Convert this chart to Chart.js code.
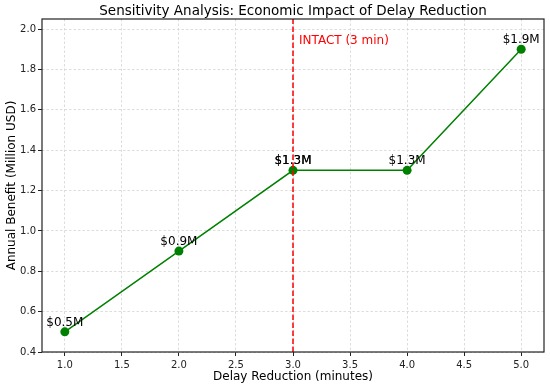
<!DOCTYPE html>
<html>
<head>
<meta charset="utf-8">
<script src="https://cdn.jsdelivr.net/npm/chart.js@4"></script>
<style>
html,body{margin:0;padding:0;background:#fff;}
#wrap{width:550px;height:387px;position:relative;}
</style>
</head>
<body>
<div id="wrap"><canvas id="c" width="550" height="387"></canvas></div>
<script>
const delayReduction = [1, 2, 3, 4, 5];
const annualBenefit = [0.5, 0.9, 1.3, 1.3, 1.9];
const benefitLabels = ['$0.5M', '$0.9M', '$1.3M', '$1.3M', '$1.9M'];
const xTicks = [1.0, 1.5, 2.0, 2.5, 3.0, 3.5, 4.0, 4.5, 5.0];
const yTicks = [0.4, 0.6, 0.8, 1.0, 1.2, 1.4, 1.6, 1.8, 2.0];
const intactDelay = 3;
const intactLabel = 'INTACT (3 min)';
const titleText = 'Sensitivity Analysis: Economic Impact of Delay Reduction';

const FONT = 'DejaVu Sans';

const overlay = {
  id: 'overlay',
  afterDatasetsDraw(chart) {
    const ctx = chart.ctx;
    const xs = chart.scales.x, ys = chart.scales.y;
    const a = chart.chartArea;
    ctx.save();
    // annotations
    ctx.font = '12px "' + FONT + '"';
    ctx.fillStyle = '#000';
    ctx.textAlign = 'center';
    ctx.textBaseline = 'alphabetic';
    delayReduction.forEach((x, i) => {
      const px = xs.getPixelForValue(x), py = ys.getPixelForValue(annualBenefit[i]);
      ctx.fillText(benefitLabels[i], px, py - 6);
      if (x === intactDelay) ctx.fillText(benefitLabels[i], px, py - 6);
    });
    // vertical intact line
    const lx = xs.getPixelForValue(intactDelay);
    ctx.strokeStyle = '#ff0000';
    ctx.lineWidth = 1.5;
    ctx.setLineDash([5.5, 2.5]);
    ctx.beginPath();
    ctx.moveTo(lx, a.bottom);
    ctx.lineTo(lx, a.top);
    ctx.stroke();
    ctx.setLineDash([]);
    ctx.fillStyle = '#ff0000';
    ctx.textAlign = 'left';
    ctx.fillText(intactLabel, lx + 6, ys.getPixelForValue(1.95) + 5);
    // frame
    ctx.strokeStyle = '#222';
    ctx.lineWidth = 1.2;
    ctx.strokeRect(a.left, a.top, a.right - a.left, a.bottom - a.top);
    // title
    ctx.fillStyle = '#000';
    ctx.textAlign = 'center';
    ctx.font = '13.5px "' + FONT + '"';
    ctx.fillText(titleText, (a.left + a.right) / 2, 15);
    ctx.restore();
  }
};

new Chart(document.getElementById('c'), {
  type: 'line',
  data: {
    datasets: [{
      data: delayReduction.map((x, i) => ({x: x, y: annualBenefit[i]})),
      borderColor: '#008000',
      backgroundColor: '#008000',
      borderWidth: 1.5,
      pointRadius: 4.5,
      pointBorderWidth: 0,
      pointBackgroundColor: '#008000',
      tension: 0,
      fill: false
    }]
  },
  plugins: [overlay],
  options: {
    responsive: false,
    animation: false,
    devicePixelRatio: 1,
    layout: {padding: {top: 19, right: 6, left: 0, bottom: 0}},
    plugins: {
      legend: {display: false},
      tooltip: {enabled: false},
      title: {display: false}
    },
    scales: {
      x: {
        type: 'linear',
        min: 0.8,
        max: 5.2,
        afterBuildTicks: s => { s.ticks = xTicks.map(v => ({value: v})); },
        afterFit: s => { s.height = 35; },
        ticks: {
          color: '#222',
          font: {family: FONT, size: 10},
          padding: 3,
          callback: v => Number(v).toFixed(1),
          maxRotation: 0,
          autoSkip: false
        },
        grid: {color: '#d4d4d4', lineWidth: 0.8, drawTicks: true, tickLength: 4, tickColor: '#222', tickWidth: 1, tickBorderDash: []},
        border: {display: false, dash: [2.5, 2]},
        title: {
          display: true,
          text: 'Delay Reduction (minutes)',
          color: '#000',
          font: {family: FONT, size: 12},
          padding: {top: 0, bottom: 3}
        }
      },
      y: {
        type: 'linear',
        min: 0.4,
        max: 2.05,
        afterBuildTicks: s => { s.ticks = yTicks.map(v => ({value: v})); },
        afterFit: s => { s.width = 42; },
        ticks: {
          color: '#222',
          font: {family: FONT, size: 10},
          padding: 2,
          callback: v => Number(v).toFixed(1),
          autoSkip: false
        },
        grid: {color: '#d4d4d4', lineWidth: 0.8, drawTicks: true, tickLength: 4, tickColor: '#222', tickWidth: 1, tickBorderDash: []},
        border: {display: false, dash: [2.5, 2]},
        title: {
          display: true,
          text: 'Annual Benefit (Million USD)',
          color: '#000',
          font: {family: FONT, size: 12},
          padding: {top: 5, bottom: 0}
        }
      }
    }
  }
});
</script>
</body>
</html>
